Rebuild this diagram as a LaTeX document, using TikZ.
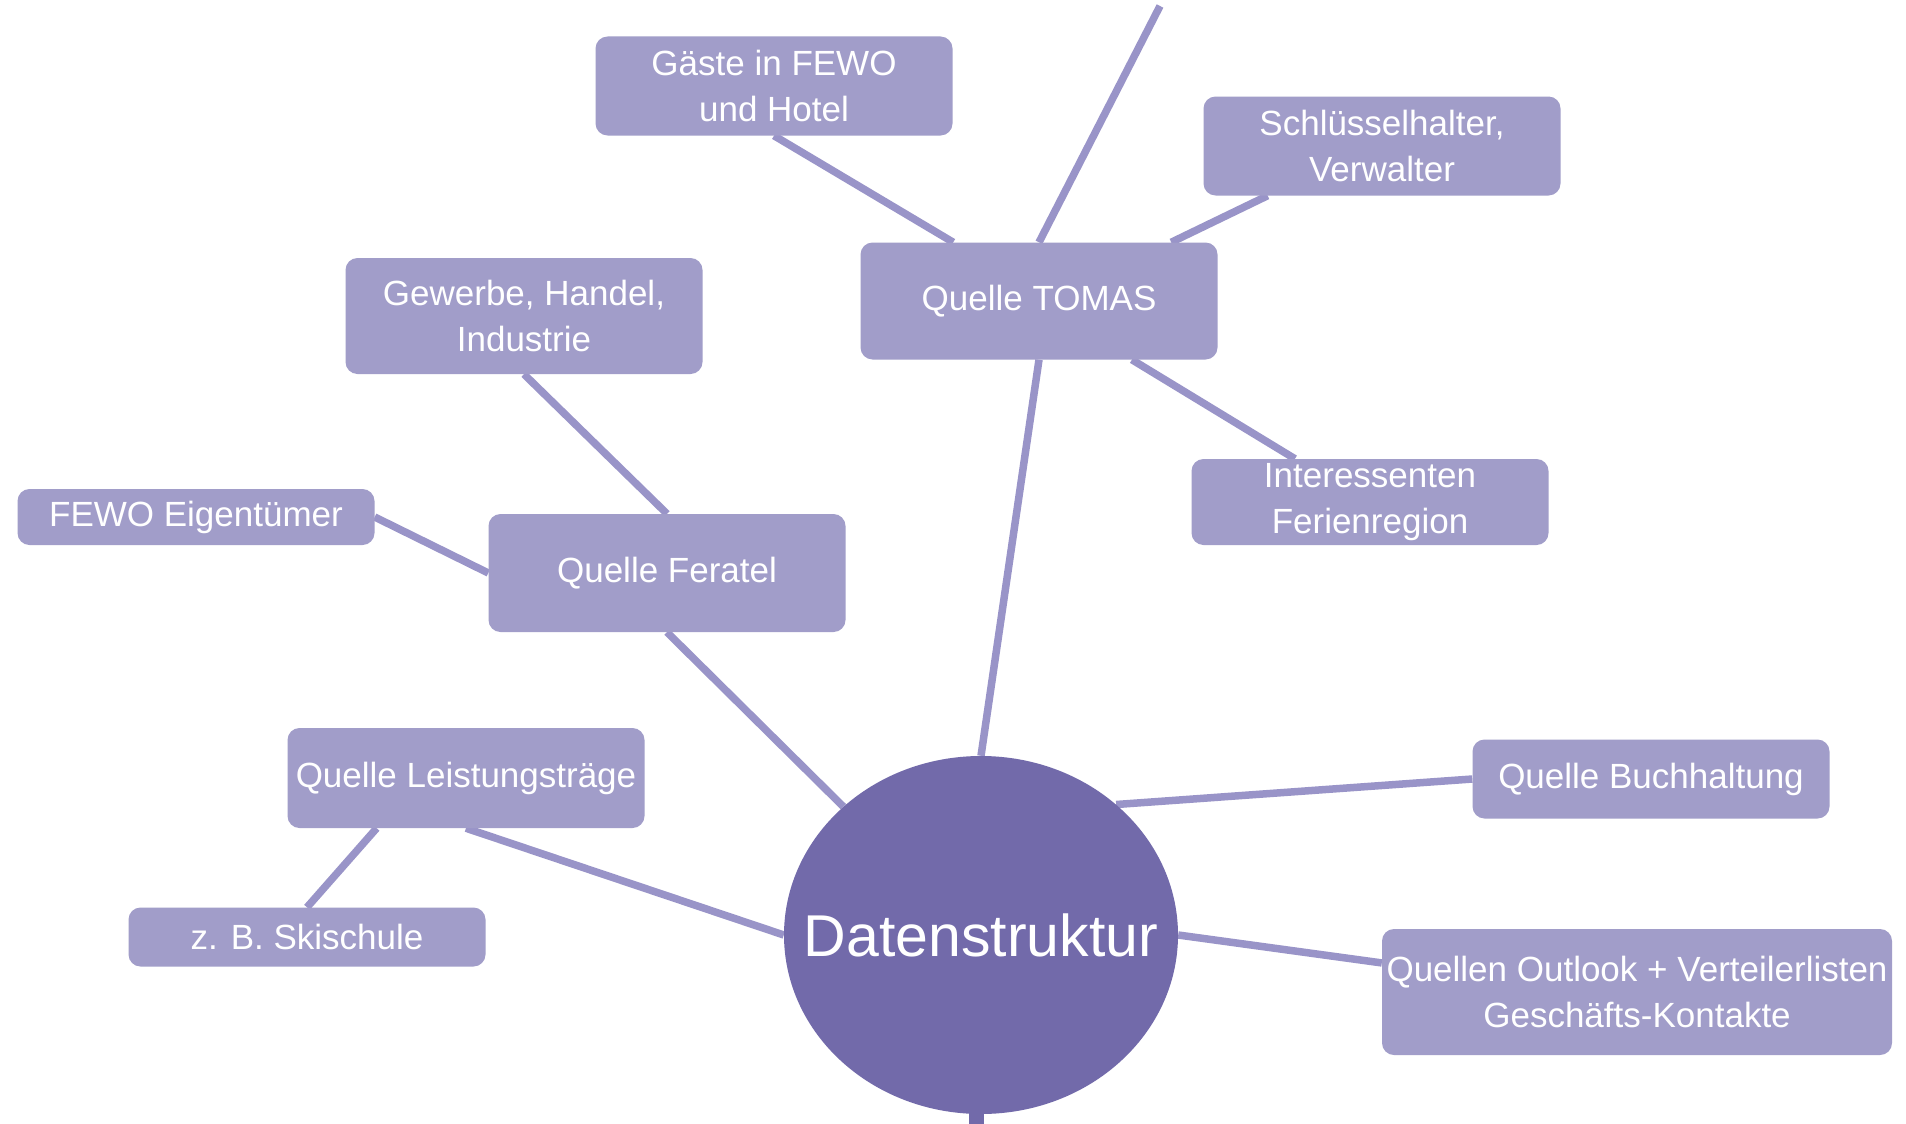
\documentclass[tikz,border=0pt]{standalone}
\usepackage{fontspec}
\setmainfont{Liberation Sans}
\usetikzlibrary{shapes.geometric,calc}
\definecolor{boxfill}{RGB}{161,157,201}
\definecolor{linecol}{RGB}{153,148,200}
\definecolor{circfill}{RGB}{114,106,170}
\pgfdeclarelayer{background}
\pgfsetlayers{background,main}
\begin{document}
\begin{tikzpicture}[x=1pt,y=-1pt,
  box/.style={rectangle, rounded corners=12pt, fill=boxfill, text=white, inner sep=0pt,
    minimum width=357pt, align=center, font=\fontsize{35}{46}\selectfont},
  hub/.style={ellipse, fill=circfill, inner sep=0pt,
    minimum width=394pt, minimum height=358pt},
  hubtext/.style={text=white, inner sep=0pt, font=\fontsize{59}{70}\selectfont},
  conn/.style={draw=linecol, line width=7.5pt}]
\useasboundingbox (0,0) rectangle (1906,1124);

\node[box, minimum height=99pt] (gaeste) at (774,86) {Gäste in FEWO\\und Hotel};
\node[box, minimum height=99pt] (schl) at (1382,146) {Schlüsselhalter,\\Verwalter};
\node[box, minimum height=117pt] (tomas) at (1039,301) {Quelle TOMAS};
\node[box, minimum height=116pt] (gew) at (524,316) {Gewerbe, Handel,\\Industrie};
\node[box, minimum height=86pt] (inter) at (1370,502) {Interessenten\\Ferienregion};
\node[box, minimum height=56pt] (fewo) at (196,517) {FEWO Eigentümer};
\node[box, minimum height=118pt] (feratel) at (667,573) {Quelle Feratel};
\node[box, minimum height=100pt] (leist) at (466,778) {Quelle Leistungsträge};
\node[box, minimum height=59pt] (ski) at (307,937) {z. B. Skischule};
\node[box, minimum height=79pt] (buch) at (1651,779) {Quelle Buchhaltung};
\node[box, minimum width=510pt, minimum height=126pt] (outlook) at (1637,992) {Quellen Outlook + Verteilerlisten\\Geschäfts-Kontakte};
\node[hub] (hub) at (981,935) {};
\node[hubtext] (hublabel) at (981,935) {Datenstruktur};

\coordinate (topend) at (1160,6);
\coordinate (botend) at (976,1124);

\begin{pgfonlayer}{background}
\fill[white] (0,0) rectangle (1906,1124);
\draw[conn] (tomas.north) -- (topend);
\draw[conn] (gaeste.south) -- ($(tomas.north west)!0.26!(tomas.north east)$);
\draw[conn] ($(schl.south west)!0.18!(schl.south east)$) -- ($(tomas.north west)!0.87!(tomas.north east)$);
\draw[conn] ($(tomas.south west)!0.76!(tomas.south east)$) -- ($(inter.north west)!0.29!(inter.north east)$);
\draw[conn] (tomas.south) -- (hub.north);
\draw[conn] (gew.south) -- (feratel.north);
\draw[conn] (fewo.east) -- (feratel.west);
\draw[conn] (feratel.south) -- (hub.137);
\draw[conn] (leist.south) -- (hub.west);
\draw[conn] ($(leist.south west)!0.25!(leist.south east)$) -- (ski.north);
\draw[conn] (buch.west) -- (hub.44);
\draw[conn] ($(outlook.north west)!0.27!(outlook.south west)$) -- (hub.east);
\draw[draw=circfill, line width=15pt] ($(hub.south)+(-5,-10)$) -- (botend);
\end{pgfonlayer}
\end{tikzpicture}
\end{document}
